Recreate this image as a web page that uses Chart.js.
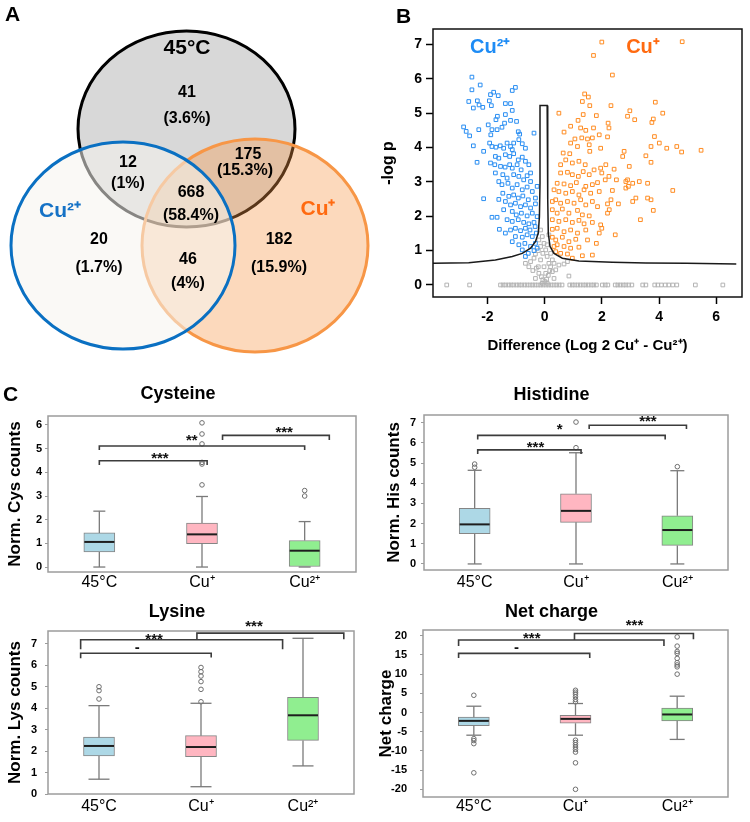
<!DOCTYPE html>
<html lang="en"><head><meta charset="utf-8"><title>Cu proteomics figure</title>
<script src="https://cdn.jsdelivr.net/npm/chart.js@4.4.1/dist/chart.umd.min.js"></script>
<style>
html,body{margin:0;padding:0;background:#fff;}
body{position:relative;width:750px;height:822px;overflow:hidden;font-family:"Liberation Sans",Arial,sans-serif;}
canvas{position:absolute;}
.letter{position:absolute;font-weight:bold;font-size:21px;line-height:21px;color:#000;}
</style></head><body>
<canvas id="venn" width="375" height="360" style="left:0;top:0"></canvas>
<canvas id="volcano" width="370" height="360" style="left:380px;top:0"></canvas>
<canvas id="cys" width="375" height="225" style="left:0;top:370px"></canvas>
<canvas id="his" width="375" height="225" style="left:375px;top:370px"></canvas>
<canvas id="lys" width="375" height="232" style="left:0;top:590px"></canvas>
<canvas id="net" width="375" height="232" style="left:375px;top:590px"></canvas>
<div class="letter" style="left:5px;top:3px">A</div>
<div class="letter" style="left:396px;top:5px">B</div>
<div class="letter" style="left:3px;top:383px">C</div>
<script>
// ================= DATA =================
// Panel A: Venn
const vennSetNames = ['45°C', 'Cu²⁺', 'Cu⁺'];
const vennRegionCounts = ['41', '12', '175', '668', '20', '46', '182'];
const vennRegionPercents = ['(3.6%)', '(1%)', '(15.3%)', '(58.4%)', '(1.7%)', '(4%)', '(15.9%)'];

// Panel B: volcano plot ([difference, -log p])
const volcXTicks = [-2, 0, 2, 4, 6];
const volcYTicks = [0, 1, 2, 3, 4, 5, 6, 7];
const volcThreshold = [[-3.94,0.63],[-2.65,0.65],[-1.72,0.73],[-1.13,0.83],[-0.78,0.92],[-0.49,1.07],[-0.32,1.26],[-0.22,1.51],[-0.18,1.99],[-0.16,2.96],[-0.16,5.22],[0.09,5.22],[0.11,2.48],[0.13,1.51],[0.19,1.12],[0.33,0.92],[0.62,0.78],[1.20,0.70],[2.37,0.66],[3.54,0.64],[4.95,0.63],[6.70,0.61]];
const volcCu2 = [[-2.54,6.05],[-2.54,5.68],[-2.25,5.82],[-2.65,5.34],[-2.35,5.36],[-2.49,5.15],[-2.29,5.24],[-2.16,5.17],[-1.93,5.36],[-1.89,5.54],[-1.78,5.61],[-1.62,5.51],[-1.86,5.22],[-1.37,5.28],[-1.19,5.28],[-1.13,5.08],[-1.13,5.66],[-1.02,5.75],[-2.83,4.6],[-2.74,4.47],[-2.62,4.34],[-2.30,4.52],[-2.49,4.05],[-1.97,4.66],[-1.65,4.91],[-1.70,4.81],[-1.88,4.37],[-1.84,4.52],[-1.66,4.52],[-1.49,4.59],[-1.40,4.71],[-1.37,4.96],[-1.19,4.79],[-0.98,4.76],[-0.92,4.46],[-0.87,4.39],[-0.37,4.42],[-0.90,4.23],[-1.08,4.13],[-1.92,4.13],[-1.84,4.03],[-1.70,4.01],[-1.55,4.05],[-1.43,3.98],[-1.31,4.13],[-1.19,4.03],[-1.13,3.94],[-0.78,4.11],[-0.67,3.98],[-2.13,3.89],[-2.36,3.57],[-1.72,3.74],[-1.60,3.69],[-1.37,3.79],[-1.22,3.74],[-1.08,3.82],[-0.92,3.64],[-0.78,3.72],[-0.67,3.60],[-0.55,3.50],[-1.89,3.55],[-1.74,3.50],[-1.54,3.45],[-1.38,3.43],[-1.22,3.50],[-1.13,3.40],[-0.96,3.50],[-0.82,3.35],[-0.49,3.26],[-1.72,3.26],[-1.46,3.21],[-1.31,3.11],[-1.08,3.21],[-0.90,3.16],[-0.73,3.06],[-0.61,3.18],[-0.49,3.01],[-0.26,2.87],[-1.60,3.01],[-1.49,2.92],[-1.28,2.96],[-1.13,2.82],[-0.96,2.92],[-0.78,2.77],[-0.61,2.85],[-0.43,2.72],[-1.46,2.67],[-1.25,2.58],[-1.08,2.62],[-0.92,2.53],[-0.76,2.59],[-0.57,2.48],[-0.32,2.53],[-2.13,2.51],[-1.60,2.49],[-1.37,2.43],[-1.19,2.33],[-1.02,2.38],[-0.84,2.28],[-0.67,2.33],[-0.49,2.24],[-0.32,2.36],[-1.43,2.19],[-1.13,2.14],[-0.99,2.04],[-0.81,2.09],[-0.61,2.01],[-0.43,2.09],[-1.84,1.97],[-1.66,1.97],[-1.31,1.90],[-1.13,1.85],[-0.92,1.90],[-0.73,1.82],[-0.55,1.78],[-0.37,1.82],[-0.26,1.99],[-1.19,1.60],[-1.02,1.65],[-0.84,1.58],[-0.67,1.65],[-0.51,1.60],[-0.33,1.70],[-1.58,1.62],[-1.37,1.51],[-1.02,1.41],[-0.78,1.39],[-0.61,1.46],[-0.43,1.41],[-0.29,1.51],[-1.13,1.26],[-0.90,1.17],[-0.69,1.21],[-0.49,1.12],[-0.32,1.21],[-0.78,1.02],[-0.57,0.92],[-0.37,1.00],[-0.67,0.83],[-0.26,1.07]];
const volcCu1 = [[2.0,7.07],[1.71,6.68],[4.81,7.08],[2.37,6.11],[1.40,5.56],[1.53,5.47],[1.32,5.34],[1.58,5.22],[2.32,5.22],[3.87,5.32],[0.50,5.00],[0.91,4.62],[1.17,4.79],[1.35,4.96],[1.81,4.93],[2.90,4.91],[2.98,5.07],[3.15,4.81],[3.80,4.83],[3.75,4.73],[4.13,5.00],[0.68,4.45],[1.26,4.57],[1.44,4.50],[1.71,4.57],[2.22,4.71],[2.25,4.57],[0.91,4.13],[1.06,4.25],[1.30,4.28],[1.50,4.25],[1.67,4.28],[1.91,4.37],[2.20,4.31],[3.84,4.32],[4.01,4.13],[3.72,4.03],[4.27,3.98],[4.62,4.03],[4.79,3.87],[5.47,3.92],[0.65,3.84],[0.88,3.82],[1.15,4.03],[1.56,4.08],[1.58,3.89],[1.96,3.98],[2.78,3.89],[2.73,3.74],[3.54,3.76],[3.72,3.57],[0.56,3.50],[0.74,3.64],[0.97,3.55],[1.20,3.60],[1.42,3.50],[1.73,3.35],[1.96,3.40],[2.14,3.50],[2.43,3.37],[2.96,3.45],[0.56,3.26],[0.80,3.28],[0.97,3.21],[1.18,3.16],[1.35,3.30],[1.56,3.21],[2.00,3.26],[2.25,3.16],[2.51,3.06],[2.84,3.01],[2.90,3.06],[3.08,2.96],[3.31,3.01],[3.60,2.96],[2.84,2.82],[2.93,2.87],[0.44,2.96],[0.68,2.94],[0.91,2.89],[1.11,2.98],[1.44,2.87],[1.67,2.92],[1.85,2.98],[2.12,3.06],[0.33,2.77],[0.50,2.72],[0.74,2.67],[0.97,2.72],[1.20,2.62],[1.38,2.77],[1.61,2.67],[1.91,2.72],[2.32,2.48],[2.37,2.75],[3.19,2.53],[3.08,2.43],[3.60,2.53],[3.72,2.48],[4.48,2.75],[0.27,2.43],[0.39,2.48],[0.56,2.38],[0.80,2.43],[1.03,2.38],[1.26,2.48],[1.44,2.33],[1.67,2.43],[1.85,2.28],[2.20,2.36],[2.58,2.36],[3.80,2.17],[0.27,2.19],[0.44,2.09],[0.62,2.21],[0.85,2.09],[1.15,2.17],[1.32,2.04],[1.56,2.01],[2.26,2.19],[2.20,2.09],[0.27,1.90],[0.50,1.85],[0.74,1.90],[0.97,1.82],[1.20,1.88],[1.38,1.78],[1.67,1.82],[1.96,1.75],[3.35,1.90],[0.27,1.62],[0.44,1.65],[0.68,1.55],[0.91,1.60],[1.15,1.51],[1.44,1.60],[1.91,1.51],[2.00,1.65],[2.47,1.46],[0.27,1.39],[0.39,1.31],[0.62,1.39],[0.85,1.26],[1.09,1.33],[1.50,1.31],[1.81,1.21],[0.33,1.12],[0.44,1.17],[0.68,1.12],[0.91,1.07],[1.20,1.10],[0.39,0.97],[0.56,0.92],[0.80,0.90],[1.32,0.85],[1.67,0.87],[0.97,0.78]];
const volcNsZeroX = [-3.42,-2.62,-1.54,-1.45,-1.36,-1.26,-1.17,-1.08,-0.98,-0.89,-0.80,-0.70,-0.61,-0.51,-0.42,-0.33,-0.23,-0.14,-0.05,0.05,0.14,0.23,0.33,0.42,0.51,0.61,0.88,0.97,1.06,1.16,1.25,1.35,1.44,1.53,1.63,1.72,1.81,2.02,2.12,2.21,2.47,2.56,2.65,2.75,2.84,2.94,3.05,3.43,3.54,3.85,3.96,4.08,4.22,4.34,4.48,4.62,5.27,6.23];
const volcNs = [[-0.67,0.63],[-0.49,0.68],[-0.37,0.78],[-0.32,0.90],[-0.22,1.0],[-0.14,1.12],[-0.20,1.31],[-0.14,1.60],[-0.08,1.41],[-0.02,1.21],[0.04,1.02],[0.09,0.83],[0.15,0.63],[0.21,0.53],[0.33,0.63],[0.50,0.58],[0.68,0.61],[0.80,0.68],[0.85,0.26],[-0.55,0.53],[-0.41,0.42],[-0.29,0.49],[-0.20,0.34],[-0.11,0.24],[-0.06,0.15],[0.01,0.10],[0.07,0.17],[0.13,0.28],[0.18,0.42],[0.27,0.39],[0.39,0.44],[-0.22,0.53],[-0.14,0.73],[-0.06,0.92],[0.09,1.17],[0.15,1.46],[0.21,0.92],[0.27,0.73],[-0.02,0.53],[0.04,0.34],[-0.08,0.05],[0.09,0.05],[-0.32,0.19],[0.33,0.19]];

// Panel C: box plots
const boxCategories = ['45°C', 'Cu⁺', 'Cu²⁺'];
const boxTitles = ['Cysteine', 'Histidine', 'Lysine', 'Net charge'];
const boxYTitles = ['Norm. Cys counts', 'Norm. His counts', 'Norm. Lys counts', 'Net charge'];

const cysLow = [0, 0, 0];
const cysQ1 = [0.64, 0.99, 0];
const cysMedian = [1.06, 1.38, 0.69];
const cysQ3 = [1.44, 1.86, 1.12];
const cysHigh = [2.36, 2.98, 1.92];
const cysOutliers = [[], [3.47, 4.35, 4.42, 5.2, 5.62, 6.09], [3.0, 3.23]];
const cysTicks = [0, 1, 2, 3, 4, 5, 6];
const cysBrackets = [[[0,4.31],[0,4.49],[1.05,4.49],[1.05,4.31]], [[0,4.94],[0,5.11],[2,5.11],[2,4.94]], [[1.2,5.37],[1.2,5.56],[2.24,5.56],[2.24,5.37]]];
const cysMarks = [['***',0.59,4.7], ['**',0.90,5.47], ['***',1.80,5.79]];

const hisLow = [0, 0, 0];
const hisQ1 = [1.50, 2.06, 0.92];
const hisMedian = [1.96, 2.63, 1.68];
const hisQ3 = [2.76, 3.48, 2.39];
const hisHigh = [4.64, 5.51, 4.62];
const hisOutliers = [[4.79, 4.95], [5.76, 7.03], [4.82]];
const hisTicks = [0, 1, 2, 3, 4, 5, 6, 7];
const hisBrackets = [[[0.03,5.45],[0.03,5.65],[1.05,5.65],[1.05,5.45]], [[0.03,6.17],[0.03,6.37],[1.88,6.37],[1.88,6.17]], [[1.13,6.69],[1.13,6.87],[2.09,6.87],[2.09,6.69]]];
const hisMarks = [['***',0.60,5.91], ['*',0.84,6.8], ['***',1.71,7.17]];

const lysLow = [0.69, 0.34, 1.31];
const lysQ1 = [1.77, 1.74, 2.5];
const lysMedian = [2.24, 2.19, 3.67];
const lysQ3 = [2.65, 2.72, 4.51];
const lysHigh = [4.12, 4.23, 7.26];
const lysOutliers = [[4.43, 4.82, 5.0], [4.3, 4.88, 5.24, 5.5, 5.7, 5.9], []];
const lysTicks = [0, 1, 2, 3, 4, 5, 6, 7];
const lysBrackets = [[[-0.18,6.33],[-0.18,6.56],[1.10,6.56],[1.10,6.36]], [[-0.18,6.75],[-0.18,7.19],[1.80,7.19],[1.80,6.75]], [[0.96,7.19],[0.96,7.5],[2.40,7.5],[2.40,7.22]]];
const lysMarks = [['-',0.375,6.8], ['***',0.54,7.34], ['***',1.52,7.93]];

const netLow = [-5.9, -5.9, -7.0];
const netQ1 = [-3.4, -2.8, -2.17];
const netMedian = [-2.17, -1.65, -0.5];
const netQ3 = [-1.2, -0.7, 1.13];
const netHigh = [1.65, 2.35, 4.26];
const netOutliers = [[4.5, -6.8, -7.3, -8.1, -15.7], [5.8, 5.3, 4.8, 4.1, 3.4, 2.8, -7.2, -7.8, -8.4, -9.0, -9.6, -10.3, -13.1, -20], [19.7, 17.3, 15.9, 15.4, 14.1, 13.0, 12.4, 11.9, 10.0]];
const netTicks = [-20, -15, -10, -5, 0, 5, 10, 15, 20];
const netBrackets = [[[-0.15,14.2],[-0.15,15.4],[1.14,15.4],[1.14,14.2]], [[-0.15,17.3],[-0.15,18.9],[1.87,18.9],[1.87,17.3]], [[0.99,18.9],[0.99,20.6],[2.16,20.6],[2.16,19.1]]];
const netMarks = [['-',0.42,16.7], ['***',0.57,19.9], ['***',1.58,23.2]];

// ================= STYLE / LAYOUT =================
const FONT = '"Liberation Sans", Arial, sans-serif';
Chart.defaults.font.family = FONT;
Chart.defaults.color = '#000';
Chart.defaults.animation = false;
Chart.defaults.events = [];
Chart.defaults.plugins.legend.display = false;
Chart.defaults.plugins.tooltip.enabled = false;

function centerText(ctx, text, x, y) {
  ctx.textAlign = 'center';
  ctx.textBaseline = 'alphabetic';
  const m = ctx.measureText(text);
  ctx.fillText(text, x, y + (m.actualBoundingBoxAscent - m.actualBoundingBoxDescent) / 2);
}

// ---------- Venn ----------
const vennLayout = {
  circles: [
    {cx: 186.5, cy: 129, rx: 108.5, ry: 98, fill: 'rgb(216,216,216)', stroke: '#000'},
    {cx: 123, cy: 245.5, rx: 112, ry: 103.5, fill: 'rgba(246,244,238,0.55)', stroke: '#0a70c2'},
    {cx: 255, cy: 245.5, rx: 113, ry: 106.5, fill: 'rgba(247,150,70,0.36)', stroke: '#f79646'}
  ],
  drawOrder: [0, 2, 1],
  setPos: [[187, 47], [60, 209], [318, 207]],
  setColor: ['#000', '#1572c6', '#ff6a10'],
  countPos: [[187, 91], [128, 161], [248, 153], [191, 191], [99, 238], [188, 258], [279, 238]],
  pctPos: [[187, 118], [128, 183], [245, 170], [191, 215], [99, 267], [188, 283], [279, 267]]
};
const vennPlugin = {
  id: 'vennDraw',
  beforeDatasetsDraw(chart) {
    const {ctx, scales: {x, y}} = chart;
    ctx.save();
    vennLayout.drawOrder.forEach(i => {
      const c = vennLayout.circles[i];
      const px = x.getPixelForValue(c.cx), py = y.getPixelForValue(c.cy);
      const rx = Math.abs(x.getPixelForValue(c.cx + c.rx) - px);
      const ry = Math.abs(y.getPixelForValue(c.cy + c.ry) - py);
      ctx.beginPath();
      ctx.ellipse(px, py, rx, ry, 0, 0, Math.PI * 2);
      ctx.fillStyle = c.fill; ctx.fill();
      ctx.lineWidth = 3; ctx.strokeStyle = c.stroke; ctx.stroke();
    });
    ctx.font = 'bold 21px ' + FONT;
    vennSetNames.forEach((t, i) => {
      ctx.fillStyle = vennLayout.setColor[i];
      const p = vennLayout.setPos[i];
      centerText(ctx, t, x.getPixelForValue(p[0]), y.getPixelForValue(p[1]));
    });
    ctx.fillStyle = '#000';
    ctx.font = 'bold 16px ' + FONT;
    vennRegionCounts.forEach((t, i) => {
      const p = vennLayout.countPos[i];
      centerText(ctx, t, x.getPixelForValue(p[0]), y.getPixelForValue(p[1]));
      const q = vennLayout.pctPos[i];
      centerText(ctx, vennRegionPercents[i], x.getPixelForValue(q[0]), y.getPixelForValue(q[1]));
    });
    ctx.restore();
  }
};
new Chart(document.getElementById('venn'), {
  type: 'scatter',
  data: {datasets: [{data: vennLayout.circles.map(c => ({x: c.cx, y: c.cy})), pointRadius: 0}]},
  options: {
    responsive: false, layout: {padding: 0},
    scales: {
      x: {type: 'linear', display: false, min: 0, max: 375},
      y: {type: 'linear', display: false, min: 0, max: 360, reverse: true}
    }
  },
  plugins: [vennPlugin]
});

// ---------- Volcano ----------
const volcLayout = {legend: [['Cu²⁺', -1.9, 6.98, '#1e8cf5'], ['Cu⁺', 3.44, 6.98, '#ff6a10']]};
const volcPlugin = {
  id: 'volcExtras',
  afterDraw(chart) {
    const {ctx, chartArea: a, scales: {x, y}} = chart;
    ctx.save();
    ctx.strokeStyle = '#111'; ctx.lineWidth = 1.5;
    ctx.strokeRect(a.left, a.top, a.right - a.left, a.bottom - a.top);
    ctx.font = 'bold 20px ' + FONT;
    volcLayout.legend.forEach(l => {
      ctx.fillStyle = l[3];
      centerText(ctx, l[0], x.getPixelForValue(l[1]), y.getPixelForValue(l[2]));
    });
    ctx.restore();
  }
};
const toXY = arr => arr.map(p => ({x: p[0], y: p[1]}));
const ptStyle = color => ({pointStyle: 'rect', pointRadius: 2.6, pointBorderColor: color, pointBackgroundColor: 'rgba(0,0,0,0)', pointBorderWidth: 1, borderColor: color, showLine: false});
const volcAxisGrid = {display: true, drawOnChartArea: false, drawTicks: true, tickLength: 7, tickColor: '#000', tickWidth: 1.5};
new Chart(document.getElementById('volcano'), {
  type: 'scatter',
  data: {datasets: [
    {label: 'threshold', data: toXY(volcThreshold), showLine: true, borderColor: '#1a1a1a', borderWidth: 1.5, pointRadius: 0, tension: 0, fill: false},
    Object.assign({label: 'Cu²⁺', data: toXY(volcCu2)}, ptStyle('#2a8ef2')),
    Object.assign({label: 'Cu⁺', data: toXY(volcCu1)}, ptStyle('#ff8c22')),
    Object.assign({label: 'ns', data: toXY(volcNsZeroX.map(v => [v, 0]).concat(volcNs))}, ptStyle('#b3b3b3'))
  ]},
  options: {
    responsive: false,
    layout: {padding: {top: 29, right: 8, left: 0, bottom: 0}},
    scales: {
      x: {type: 'linear', min: -3.9, max: 6.9,
        afterBuildTicks: s => { s.ticks = volcXTicks.map(v => ({value: v})); },
        grid: volcAxisGrid, border: {display: false},
        ticks: {font: {size: 14, weight: 'bold'}, color: '#000', padding: 4.6},
        title: {display: true, text: 'Difference (Log 2 Cu⁺ - Cu²⁺)', font: {size: 15, weight: 'bold'}, color: '#000', padding: {top: 0, bottom: 5}},
        afterFit: s => { s.height = 63; }},
      y: {type: 'linear', min: -0.35, max: 7.45,
        afterBuildTicks: s => { s.ticks = volcYTicks.map(v => ({value: v})); },
        grid: volcAxisGrid, border: {display: false},
        ticks: {font: {size: 14, weight: 'bold'}, color: '#000', padding: 4},
        title: {display: true, text: '-log p', font: {size: 16, weight: 'bold', lineHeight: 1}, color: '#000', padding: {top: 1, bottom: 0}},
        afterFit: s => { s.width = 53; }}
    }
  },
  plugins: [volcPlugin]
});

// ---------- Box plots ----------
const boxFill = ['#add8e6', '#ffb6c1', '#90ee90'];
function makeBoxPlugin(st, lay) {
  return {
    id: 'boxExtras',
    afterDatasetsDraw(chart) {
      const {ctx, chartArea: a, scales: {x, y}} = chart;
      const meta = chart.getDatasetMeta(0);
      ctx.save();
      // whiskers + caps
      ctx.strokeStyle = '#7a7a7a'; ctx.lineWidth = 1.3;
      for (let i = 0; i < boxCategories.length; i++) {
        const cx = x.getPixelForValue(i);
        const line = (x1, y1, x2, y2) => { ctx.beginPath(); ctx.moveTo(x1, y1); ctx.lineTo(x2, y2); ctx.stroke(); };
        const yH = y.getPixelForValue(st.high[i]), yL = y.getPixelForValue(st.low[i]);
        line(cx, y.getPixelForValue(st.q3[i]), cx, yH);
        line(cx, y.getPixelForValue(st.q1[i]), cx, yL);
        line(cx - lay.cap / 2, yH, cx + lay.cap / 2, yH);
        line(cx - lay.cap / 2, yL, cx + lay.cap / 2, yL);
      }
      // medians
      ctx.strokeStyle = '#1e1e1e'; ctx.lineWidth = 2;
      for (let i = 0; i < boxCategories.length; i++) {
        const el = meta.data[i];
        const cx = x.getPixelForValue(i), w = el.width;
        const py = y.getPixelForValue(st.median[i]);
        ctx.beginPath(); ctx.moveTo(cx - w / 2 + 0.5, py); ctx.lineTo(cx + w / 2 - 0.5, py); ctx.stroke();
      }
      // frame
      ctx.strokeStyle = '#9c9c9c'; ctx.lineWidth = 1.5;
      ctx.strokeRect(a.left, a.top, a.right - a.left, a.bottom - a.top);
      // significance brackets
      ctx.strokeStyle = '#3c3c3c'; ctx.lineWidth = 1.6;
      st.brackets.forEach(b => {
        ctx.beginPath();
        b.forEach((p, k) => {
          const px = x.getPixelForValue(p[0]), py = y.getPixelForValue(p[1]);
          if (k === 0) ctx.moveTo(px, py); else ctx.lineTo(px, py);
        });
        ctx.stroke();
      });
      ctx.fillStyle = '#111';
      ctx.font = 'bold 15px ' + FONT;
      st.marks.forEach(m => centerText(ctx, m[0], x.getPixelForValue(m[1]), y.getPixelForValue(m[2])));
      ctx.restore();
    }
  };
}
function makeBoxChart(id, st, lay) {
  const pts = [];
  st.outliers.forEach((arr, i) => arr.forEach(v => pts.push({x: boxCategories[i], y: v})));
  return new Chart(document.getElementById(id), {
    type: 'bar',
    data: {labels: boxCategories, datasets: [
      {type: 'bar', data: st.q1.map((v, i) => [v, st.q3[i]]), backgroundColor: boxFill, borderColor: '#858585', borderWidth: 1, borderSkipped: false, barThickness: 31},
      {type: 'line', data: pts, showLine: false, pointStyle: 'circle', pointRadius: 2.3, pointBorderColor: '#6e6e6e', pointBackgroundColor: 'rgba(0,0,0,0)', pointBorderWidth: 1}
    ]},
    options: {
      responsive: false,
      layout: {padding: {left: 0, right: lay.padRight, top: 0, bottom: 0}},
      plugins: {title: {display: true, text: st.title, font: {size: 18, weight: 'bold'}, color: '#000', padding: {top: lay.titleTop, bottom: lay.titleBottom}}},
      scales: {
        x: {grid: {display: false, drawTicks: false}, border: {display: false},
          ticks: {font: {size: 16}, color: '#000', padding: lay.xPad},
          afterFit: s => { s.height = lay.xHeight; }},
        y: {min: st.min, max: st.max,
          afterBuildTicks: s => { s.ticks = st.ticks.map(v => ({value: v})); },
          grid: {display: true, drawOnChartArea: false, drawTicks: true, tickLength: 3, tickColor: '#9c9c9c'},
          border: {display: false},
          ticks: {font: {size: 11, weight: 'bold'}, color: '#000', padding: lay.yPad},
          title: {display: true, text: st.yTitle, font: {size: 17, weight: 'bold'}, color: '#000', padding: {top: lay.yTitlePad, bottom: 0}},
          afterFit: s => { s.width = lay.yWidth; }}
      }
    },
    plugins: [makeBoxPlugin(st, lay)]
  });
}

makeBoxChart('cys',
  {title: boxTitles[0], yTitle: boxYTitles[0], low: cysLow, q1: cysQ1, median: cysMedian, q3: cysQ3, high: cysHigh, outliers: cysOutliers, ticks: cysTicks, min: -0.21, max: 6.38, brackets: cysBrackets, marks: cysMarks},
  {padRight: 19, titleTop: 13.2, titleBottom: 11.2, xPad: 1.4, xHeight: 23, yPad: 3, yWidth: 48, yTitlePad: 5, cap: 12});
makeBoxChart('his',
  {title: boxTitles[1], yTitle: boxYTitles[1], low: hisLow, q1: hisQ1, median: hisMedian, q3: hisQ3, high: hisHigh, outliers: hisOutliers, ticks: hisTicks, min: -0.30, max: 7.38, brackets: hisBrackets, marks: hisMarks},
  {padRight: 22, titleTop: 14.2, titleBottom: 9.2, xPad: 3.4, xHeight: 25, yPad: 5, yWidth: 49, yTitlePad: 9, cap: 14});
makeBoxChart('lys',
  {title: boxTitles[2], yTitle: boxYTitles[2], low: lysLow, q1: lysQ1, median: lysMedian, q3: lysQ3, high: lysHigh, outliers: lysOutliers, ticks: lysTicks, min: 0, max: 7.6, brackets: lysBrackets, marks: lysMarks},
  {padRight: 21, titleTop: 11.2, titleBottom: 8.2, xPad: 3.4, xHeight: 28, yPad: 8, yWidth: 48, yTitlePad: 5, cap: 21});
makeBoxChart('net',
  {title: boxTitles[3], yTitle: boxYTitles[3], low: netLow, q1: netQ1, median: netMedian, q3: netQ3, high: netHigh, outliers: netOutliers, ticks: netTicks, min: -22, max: 21.5, brackets: netBrackets, marks: netMarks},
  {padRight: 22, titleTop: 11.2, titleBottom: 7.2, xPad: 0.4, xHeight: 25, yPad: 13, yWidth: 48, yTitlePad: 1, cap: 15});
</script>
</body></html>
